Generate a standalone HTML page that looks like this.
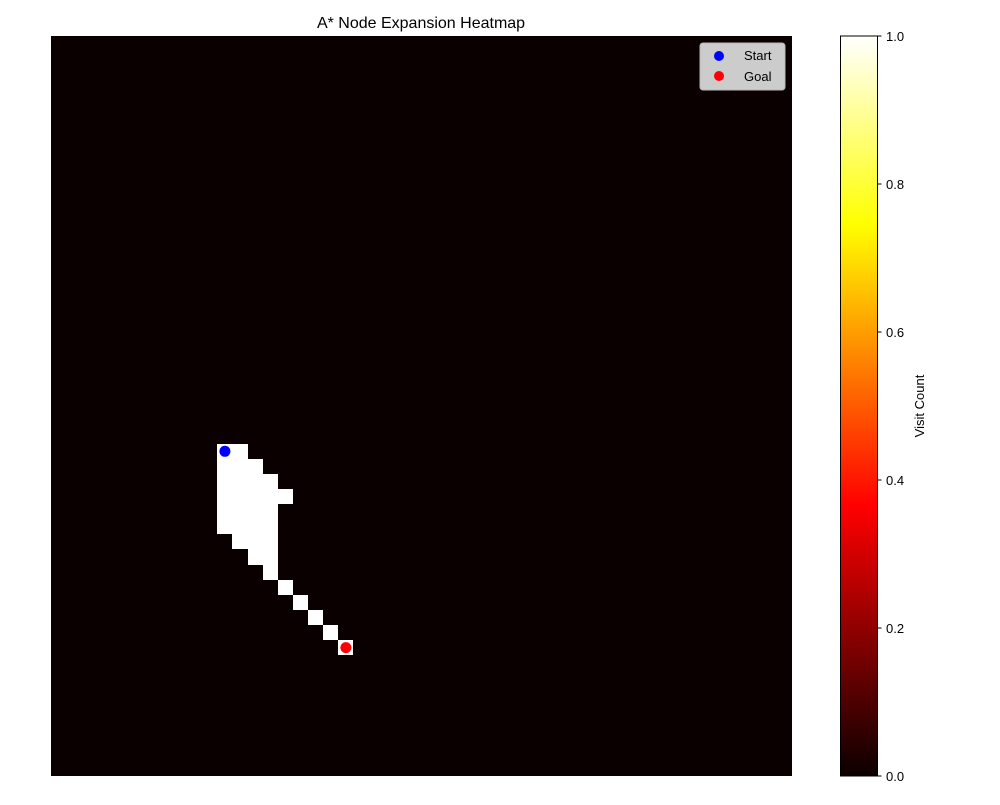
<!DOCTYPE html>
<html><head><meta charset="utf-8"><style>
html,body{margin:0;padding:0;background:#fff;}
svg text{font-family:"Liberation Sans","DejaVu Sans",sans-serif;}
</style></head><body>
<svg id="chart" width="1000" height="800" viewBox="0 0 1000 800" xmlns="http://www.w3.org/2000/svg">
<defs>
<linearGradient id="hot" x1="0" y1="1" x2="0" y2="0">
<stop offset="0" stop-color="#0b0000"/>
<stop offset="0.365" stop-color="#ff0000"/>
<stop offset="0.746" stop-color="#ffff00"/>
<stop offset="1" stop-color="#ffffff"/>
</linearGradient>
</defs>
<text x="421" y="28" font-size="16" text-anchor="middle">A* Node Expansion Heatmap</text>
<rect x="51" y="36" width="741" height="740" fill="#0b0000"/>
<g id="cells" shape-rendering="crispEdges"></g>
<g id="markers"></g>
<g>
<rect x="700" y="43" width="85" height="47" rx="3" fill="#cccccc" stroke="#b8b8b8"/>
<circle cx="719" cy="56" r="5" fill="#0000ff"/>
<text x="744" y="60" font-size="13">Start</text>
<circle cx="719" cy="76" r="5" fill="#ff0000"/>
<text x="744" y="81" font-size="13">Goal</text>
</g>
<rect x="840.5" y="36" width="37" height="740" fill="url(#hot)" stroke="#000" stroke-width="1"/>
<g id="cbticks"></g>
<text transform="translate(924,406) rotate(-90)" font-size="13" text-anchor="middle">Visit Count</text>
</svg>
<script>
const gridSize = 49;
const visitedRows = [27,27,28,28,28,29,29,29,29,30,30,30,30,30,31,31,31,31,32,32,32,32,33,33,33,34,34,35,36,37,38,39,40];
const visitedCols = [11,12,11,12,13,11,12,13,14,11,12,13,14,15,11,12,13,14,11,12,13,14,12,13,14,13,14,14,15,16,17,18,19];
const visitCounts = [1,1,1,1,1,1,1,1,1,1,1,1,1,1,1,1,1,1,1,1,1,1,1,1,1,1,1,1,1,1,1,1,1];
const startCell = [27, 11];
const goalCell = [40, 19];
const cbTicks = [0, 0.2, 0.4, 0.6, 0.8, 1.0];
const cbTickLabels = ["0.0","0.2","0.4","0.6","0.8","1.0"];

const NS = "http://www.w3.org/2000/svg";
const X0 = 51, Y0 = 36, W = 741, H = 740;
const cw = W / gridSize, ch = H / gridSize;
const xPos = c => X0 + c * cw;
const yPos = r => Y0 + r * ch;
function hot(v){
  const r = Math.min(1, Math.max(0, (v + 0.0416) / 0.3765 * 0.96));
  const g = Math.min(1, Math.max(0, (v - 0.365) / 0.381));
  const b = Math.min(1, Math.max(0, (v - 0.746) / 0.254));
  return `rgb(${Math.round(r*255)},${Math.round(g*255)},${Math.round(b*255)})`;
}
const maxV = Math.max(...visitCounts);
const cells = document.getElementById('cells');
visitedRows.forEach((r, i) => {
  const el = document.createElementNS(NS, 'rect');
  const x1 = Math.round(xPos(visitedCols[i])), x2 = Math.round(xPos(visitedCols[i] + 1));
  const y1 = Math.round(yPos(r)), y2 = Math.round(yPos(r + 1));
  el.setAttribute('x', x1);
  el.setAttribute('y', y1);
  el.setAttribute('width', x2 - x1);
  el.setAttribute('height', y2 - y1);
  el.setAttribute('fill', hot(visitCounts[i] / maxV));
  
  
  cells.appendChild(el);
});
const markers = document.getElementById('markers');
[[startCell, '#0000ff', 'start-marker'], [goalCell, '#ff0000', 'goal-marker']].forEach(([c, col, nm]) => {
  const el = document.createElementNS(NS, 'circle');
  el.setAttribute('cx', xPos(c[1] + 0.5));
  el.setAttribute('cy', yPos(c[0] + 0.5));
  el.setAttribute('r', 5.5);
  el.setAttribute('fill', col);
  
  
  markers.appendChild(el);
});
const cb = document.getElementById('cbticks');
const cbY = v => 776 - v * 740;
cbTicks.forEach((t, i) => {
  const ln = document.createElementNS(NS, 'line');
  ln.setAttribute('x1', 877.5); ln.setAttribute('x2', 881.5);
  ln.setAttribute('y1', cbY(t)); ln.setAttribute('y2', cbY(t));
  ln.setAttribute('stroke', '#000');
  
  
  cb.appendChild(ln);
  const tx = document.createElementNS(NS, 'text');
  tx.setAttribute('x', 886); tx.setAttribute('y', cbY(t) + 5);
  tx.setAttribute('font-size', '13');
  tx.textContent = cbTickLabels[i];
  
  
  cb.appendChild(tx);
});
</script>
</body></html>
